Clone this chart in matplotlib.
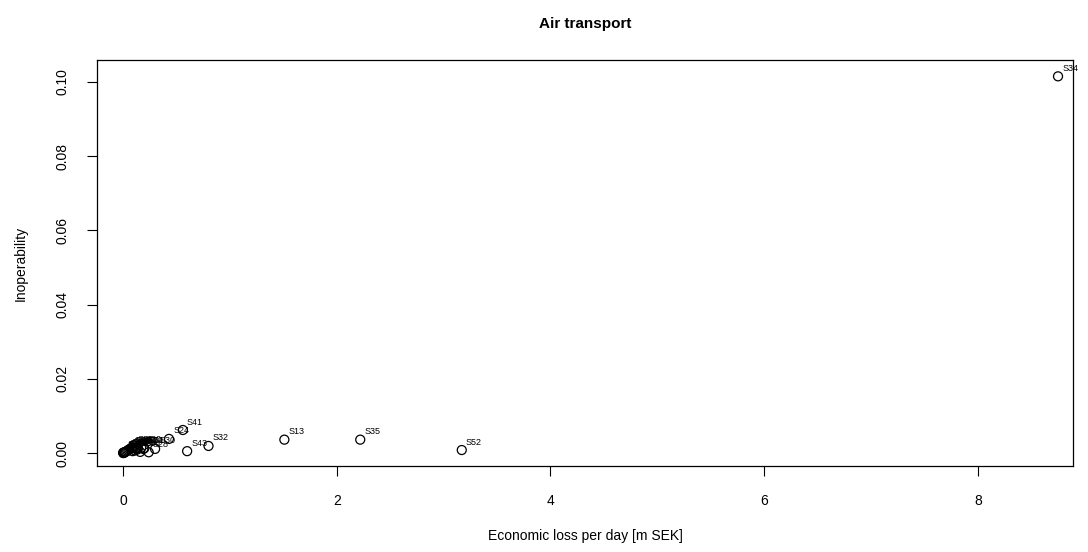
import matplotlib.pyplot as plt

plt.rcParams['font.family'] = ['Liberation Sans', 'DejaVu Sans']

# sectors: economic loss per day [m SEK] and inoperability
sectors = ['S34', 'S52', 'S35', 'S13', 'S32', 'S43', 'S41', 'S24', 'S30',
           'S28', 'S31', 'S20', 'S27', 'S29', 'S36', 'S46', 'S50', 'S42',
           'S23', 'S10', 'S18', 'S21', 'S37', 'S39', 'S44', 'S45', 'S47',
           'S49', 'S51', 'S01', 'S16', 'S19']
loss = [8.75, 3.17, 2.22, 1.51, 0.80, 0.60, 0.56, 0.43, 0.30,
        0.24, 0.20, 0.17, 0.14, 0.12, 0.10, 0.08, 0.07, 0.06,
        0.05, 0.04, 0.03, 0.02, 0.015, 0.01, 0.005, 0.003, 0.002,
        0.09, 0.11, 0.13, 0.16, 0.19]
inop = [0.1015, 0.0008, 0.0036, 0.0036, 0.0019, 0.0005, 0.0062, 0.0038, 0.0011,
        0.0002, 0.0013, 0.0014, 0.0012, 0.0013, 0.0014, 0.0013, 0.0012, 0.0010,
        0.0008, 0.0006, 0.0004, 0.0003, 0.0002, 0.0001, 0.0, 0.0, 0.0001,
        0.0005, 0.0007, 0.0009, 0.0003, 0.0011]

fig = plt.figure(figsize=(10.88, 5.52), dpi=100)
ax = fig.add_axes([0.0892, 0.1558, 0.897, 0.7355])

ax.scatter(loss, inop, s=42, facecolors='none', edgecolors='black', linewidths=0.9, zorder=3)
for name, x, y in zip(sectors, loss, inop):
    ax.annotate(name, (x, y), xytext=(3, 2.5), textcoords='offset points',
                fontsize=6.5, ha='left', va='bottom')

ax.set_xlim(-0.243, 8.89)
ax.set_ylim(-0.0035, 0.1059)
ax.set_xticks([0, 2, 4, 6, 8])
ax.set_xticklabels(['0', '2', '4', '6', '8'])
ax.set_yticks([0, 0.02, 0.04, 0.06, 0.08, 0.10])
ax.set_yticklabels(['0.00', '0.02', '0.04', '0.06', '0.08', '0.10'], rotation=90, va='center')
ax.tick_params(direction='out', length=7, width=0.8, labelsize=10, pad=13)
for sp in ax.spines.values():
    sp.set_linewidth(0.9)

ax.set_title('Air transport', fontsize=11, fontweight='bold', pad=23)
ax.set_xlabel('Economic loss per day [m SEK]', fontsize=10, labelpad=15)
ax.set_ylabel('Inoperability', fontsize=10, labelpad=20)

fig.savefig('out.png', dpi=100)
